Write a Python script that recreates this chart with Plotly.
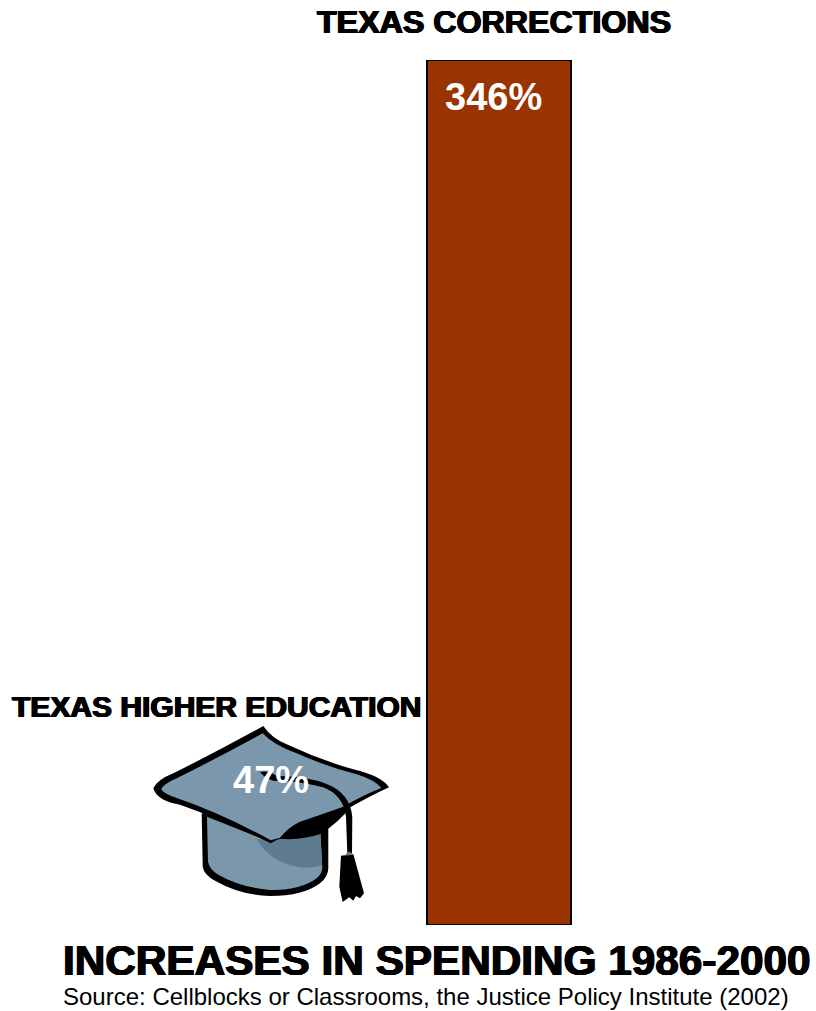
import plotly.graph_objects as go

# Percentage growth in state spending, 1986-2000
categories = ["Texas Higher Education", "Texas Corrections"]
increases = [47, 346]
heading_labels = ["TEXAS HIGHER EDUCATION", "TEXAS CORRECTIONS"]
title_text = "INCREASES IN SPENDING 1986-2000"
source_text = "Source: Cellblocks or Classrooms, the Justice Policy Institute (2002)"

WIDTH, HEIGHT = 816, 1011
TOP, BOTTOM = 60, 86
PLOT_H = HEIGHT - TOP - BOTTOM
CAT0_X, CAT_STEP = 270, 229
HEAVY = "0.8px 0 0 #000, -0.8px 0 0 #000, 0 0.4px 0 #000, 0 -0.4px 0 #000"


def px_x(x):
    return x / WIDTH


def px_y(y):
    return (HEIGHT - BOTTOM - y) / PLOT_H


def cap_path(commands):
    """Build a pixel path for the mortarboard, anchored on the first category's baseline."""
    parts = []
    for cmd, *pts in commands:
        coords = []
        for zx, zy in pts:
            sx = 140 + zx / 3 - CAT0_X
            sy = HEIGHT - BOTTOM - (710 + zy / 3)
            coords.append(f"{sx:.1f},{sy:.1f}")
        parts.append(cmd + " ".join(coords))
    return " ".join(parts) + " Z"


def cap_shape(commands, fill):
    return dict(
        type="path", layer="above", xref="x", yref="y", xsizemode="pixel", ysizemode="pixel",
        xanchor=0, yanchor=0, path=cap_path(commands), fillcolor=fill, line=dict(width=0),
    )


CAP_BLUE = "#7b97ac"
CAP_SHADE = "#5f7b90"
BLACK = "#000000"

crown_outer = [
    ("M", (185, 310)), ("L", (188, 470)), ("Q", (192, 495), (225, 512)),
    ("Q", (300, 555), (390, 558)), ("Q", (490, 558), (540, 520)), ("Q", (565, 500), (565, 475)),
    ("L", (565, 330)),
]
crown_inner = [
    ("M", (201, 320)), ("L", (204, 455)), ("Q", (208, 478), (235, 494)),
    ("Q", (300, 532), (390, 540)), ("Q", (480, 542), (530, 505)), ("Q", (548, 490), (547, 470)),
    ("L", (541, 360)), ("L", (390, 395)),
]
crown_shade = [
    ("M", (350, 388)), ("Q", (385, 445), (440, 462)), ("Q", (495, 482), (546, 466)),
    ("L", (541, 365)), ("L", (420, 388)),
]
under_board = [
    ("M", (418, 386)), ("Q", (455, 345), (540, 322)), ("L", (630, 292)),
    ("Q", (600, 335), (541, 372)), ("Q", (480, 392), (418, 386)),
]
board_outer = [
    ("M", (370, 48)), ("Q", (395, 85), (440, 103)), ("Q", (540, 150), (640, 178)),
    ("Q", (725, 198), (747, 232)), ("Q", (690, 258), (620, 298)), ("Q", (500, 335), (420, 385)),
    ("L", (392, 400)), ("Q", (250, 330), (120, 284)), ("Q", (50, 272), (40, 235)),
    ("Q", (50, 210), (100, 190)), ("Q", (240, 120), (370, 48)),
]
board_inner = [
    ("M", (368, 70)), ("Q", (400, 105), (470, 130)), ("Q", (560, 170), (650, 193)),
    ("Q", (705, 210), (724, 234)), ("Q", (670, 255), (610, 290)), ("Q", (540, 315), (480, 335)),
    ("Q", (445, 352), (420, 383)), ("L", (392, 391)),
    ("Q", (250, 312), (110, 264)), ("Q", (72, 252), (64, 238)), ("Q", (70, 222), (110, 205)),
    ("Q", (240, 140), (368, 70)),
]
cord = [
    ("M", (360, 186)), ("Q", (385, 180), (410, 198)), ("Q", (500, 198), (560, 222)),
    ("Q", (630, 250), (637, 320)), ("L", (636, 430)), ("L", (622, 430)), ("L", (618, 320)),
    ("Q", (610, 255), (550, 232)), ("Q", (480, 212), (400, 212)), ("Q", (375, 205), (360, 186)),
]
tassel = [
    ("M", (603, 437)), ("L", (640, 432)), ("L", (672, 550)), ("L", (660, 565)),
    ("L", (648, 558)), ("L", (640, 572)), ("L", (628, 562)), ("L", (608, 576)), ("L", (598, 530)),
]
tassel_knot = [("M", (612, 437)), ("L", (628, 424)), ("L", (640, 434))]

cap_shapes = [
    cap_shape(crown_outer, BLACK),
    cap_shape(crown_inner, CAP_BLUE),
    cap_shape(crown_shade, CAP_SHADE),
    cap_shape(under_board, BLACK),
    cap_shape(board_outer, BLACK),
    cap_shape(board_inner, CAP_BLUE),
    cap_shape(cord, BLACK),
    cap_shape(tassel, BLACK),
    cap_shape(tassel_knot, CAP_SHADE),
]

fig = go.Figure(
    go.Bar(
        x=[0, 1],
        y=increases,
        width=144 / CAT_STEP,
        # The education figure is pictured by the cap, so its own bar stays unpainted
        marker=dict(
            color=["rgba(0,0,0,0)", "#993300"],
            line=dict(color=["rgba(0,0,0,0)", "#000000"], width=2),
        ),
        hoverinfo="skip",
        customdata=categories,
    )
)


def label(text, x, y, size, color="#000000", bold=True, shadow=None):
    font = dict(family="Liberation Sans", size=size, color=color, weight="bold" if bold else "normal")
    if shadow:
        font["shadow"] = shadow
    return dict(
        text=text, xref="paper", yref="paper", x=px_x(x), y=px_y(y), xanchor="center",
        yanchor="middle", showarrow=False, font=font, borderpad=0,
    )


fig.update_layout(
    width=WIDTH,
    height=HEIGHT,
    margin=dict(l=0, r=0, t=TOP, b=BOTTOM, pad=0),
    paper_bgcolor="#ffffff",
    plot_bgcolor="#ffffff",
    showlegend=False,
    xaxis=dict(range=[-CAT0_X / CAT_STEP, (WIDTH - CAT0_X) / CAT_STEP], visible=False, fixedrange=True),
    yaxis=dict(range=[0, increases[1]], visible=False, fixedrange=True),
    shapes=cap_shapes,
    annotations=[
        label(heading_labels[1], 494, 22, 32.2, shadow=HEAVY),
        label(heading_labels[0], 216, 706.5, 30, shadow=HEAVY),
        label(f"{increases[1]}%", 494, 97, 38, color="#ffffff"),
        label(f"{increases[0]}%", 271, 780, 38, color="#ffffff"),
        label(title_text, 437, 960.5, 42.3, shadow=HEAVY),
        label(source_text, 425.5, 996.5, 24, bold=False),
    ],
)

fig.write_html("out.html", config=dict(displayModeBar=False))
